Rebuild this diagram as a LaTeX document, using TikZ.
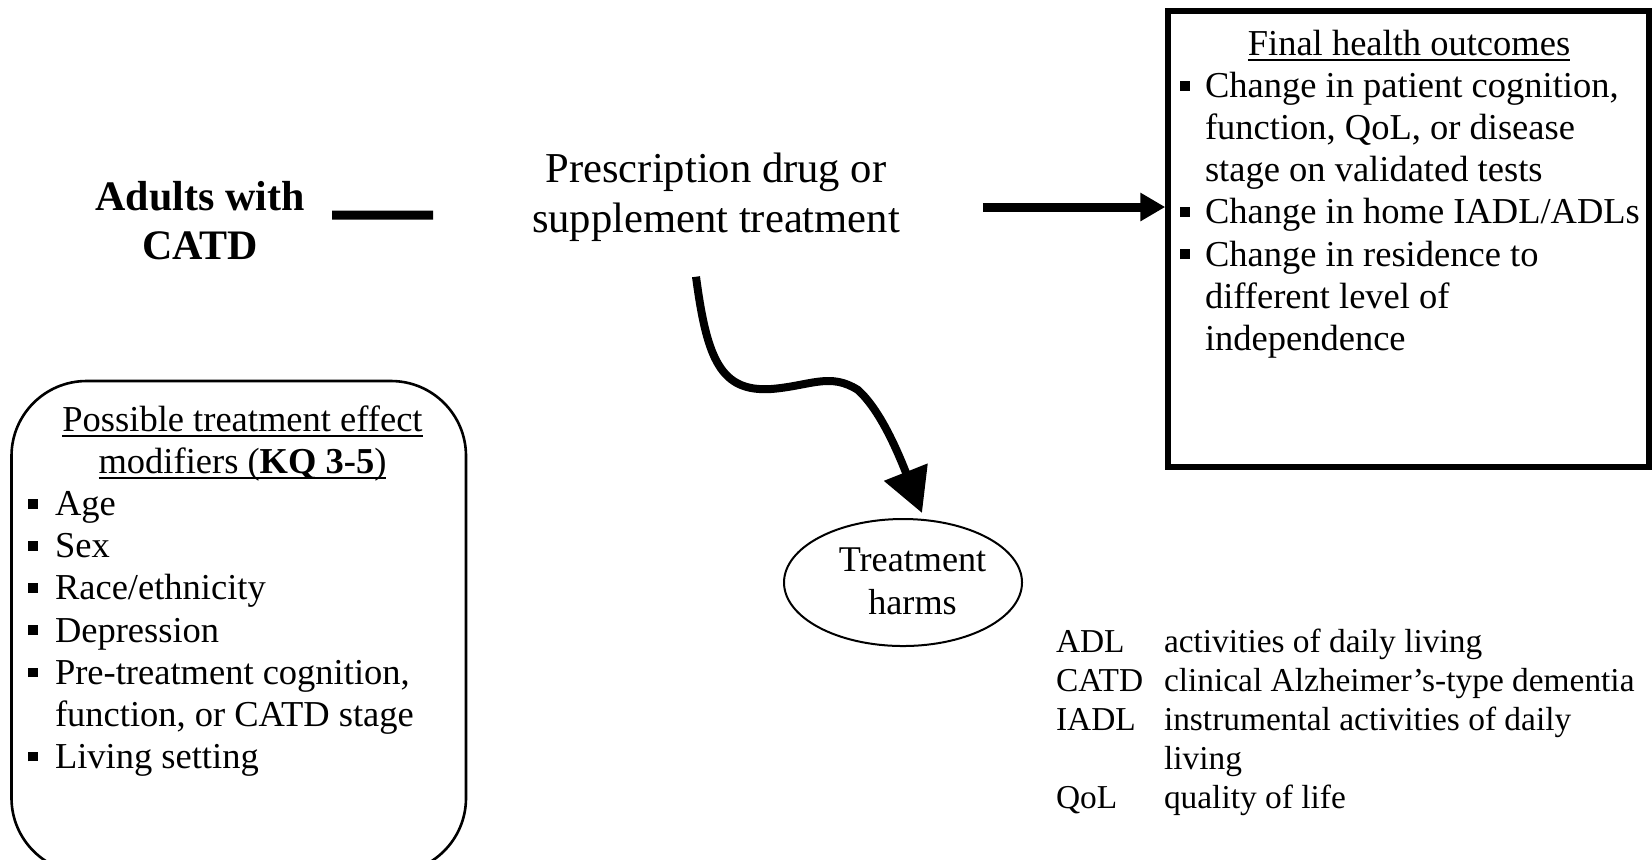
\documentclass[tikz,border=0pt]{standalone}
\usepackage{fontspec}
\setmainfont{Liberation Serif}
\usetikzlibrary{arrows.meta,shapes.geometric}

% small square list bullet, set in a box of the given width
\newcommand\sqbul[1]{\makebox[#1][l]{\rule[3.5pt]{4.8pt}{4.8pt}}}
% underline at a fixed distance below the baseline
\newsavebox\ulbox
\newcommand\ulined[1]{\sbox\ulbox{#1}\rlap{\rule[-3pt]{\wd\ulbox}{0.9pt}}\usebox\ulbox}

\begin{document}
\begin{tikzpicture}[x=0.5pt,y=-0.5pt,
  txt/.style={inner sep=0pt,outer sep=0pt},
  boxfont/.style={font=\fontsize{18.25}{21.05}\selectfont},
  modfont/.style={font=\fontsize{18.25}{21.05}\selectfont},
  bigfont/.style={font=\fontsize{21.3}{25}\selectfont},
  keyfont/.style={font=\fontsize{16.7}{19.5}\selectfont},
  bar/.style={line width=4.5pt},
  fatarrow/.style={line width=4.5pt,-{Triangle[length=12.5pt,width=13.5pt]}},
  wavyarrow/.style={line width=4pt,line join=round,-{Triangle[length=22pt,width=22.5pt]}},
  outcomebox/.style={draw,line width=2.75pt,inner sep=0pt},
  modbox/.style={draw,rounded corners=37.5pt,line width=1.3pt,inner sep=0pt},
  harmshape/.style={draw,ellipse,line width=1pt,inner sep=0pt}
]
\fill[white] (0,0) rectangle (1652,859);
\useasboundingbox (0,0) rectangle (1652,859);

% population and intervention
\node[txt,anchor=north,align=center,font=\bfseries\fontsize{21}{24.5}\selectfont]
  (adults) at (200,175.7) {\strut Adults with\\\strut CATD};
\node[txt,anchor=north,align=center,bigfont]
  (presc) at (716,147.6) {\strut Prescription drug or\\\strut supplement treatment};

% final outcomes box
\node[outcomebox,minimum width=240.5pt,minimum height=228pt] (final) at (1408.5,239) {};
\node[txt,anchor=base,boxfont] (finaltitle) at (1409,55) {\ulined{Final health outcomes}};
\node[txt,anchor=north west,align=left,boxfont] (finalitems) at (1180,68.2)
  {\strut\sqbul{12.5pt}Change in patient cognition,\\
   \hspace*{12.5pt}function, QoL, or disease\\
   \hspace*{12.5pt}stage on validated tests\\
   \sqbul{12.5pt}Change in home IADL/ADLs\\
   \sqbul{12.5pt}Change in residence to\\
   \hspace*{12.5pt}different level of\\
   \hspace*{12.5pt}independence\strut};

% effect modifiers box
\node[modbox,minimum width=227.25pt,minimum height=246pt] (mods) at (238.75,627) {};
\node[txt,anchor=north,align=center,modfont] (modtitle) at (242.5,401.7)
  {\strut\ulined{Possible treatment effect}\\
   \ulined{modifiers (\textbf{KQ 3-5})}\strut};
\node[txt,anchor=north west,align=left,modfont] (moditems) at (28,486.3)
  {\strut\sqbul{13.5pt}Age\\
   \sqbul{13.5pt}Sex\\
   \sqbul{13.5pt}Race/ethnicity\\
   \sqbul{13.5pt}Depression\\
   \sqbul{13.5pt}Pre-treatment cognition,\\
   \hspace*{13.5pt}function, or CATD stage\\
   \sqbul{13.5pt}Living setting\strut};

% harms
\node[harmshape,minimum width=119pt,minimum height=63.5pt] (harms) at (903,582.5) {};
\node[txt,anchor=north,align=center,font=\fontsize{18.1}{21.5}\selectfont]
  (harmstext) at (912.5,540.9) {\strut Treatment\\harms\strut};

% abbreviations
\node[txt,anchor=north west,align=left,keyfont] (abbrev) at (1056,624.7)
  {\strut\makebox[54pt][l]{ADL}activities of daily living\\
   \makebox[54pt][l]{CATD}clinical Alzheimer’s-type dementia\\
   \makebox[54pt][l]{IADL}instrumental activities of daily\\
   \makebox[54pt][l]{}living\\
   \makebox[54pt][l]{QoL}quality of life\strut};

% connectors
\draw[bar] ([shift={(27.6,-9.7)}]adults.east) -- ([shift={(-99,17.4)}]presc.west);
\draw[fatarrow] ([shift={(83,9.4)}]presc.east) -- ([shift={(0,-32)}]final.west);
\draw[wavyarrow] ([shift={(-20,29.1)}]presc.south)
  .. controls (707,360) and (721,392) .. (771,389)
  .. controls (810,386) and (830,372) .. (858,390)
  .. controls (880,410) and (897,450) .. ([shift={(19,-5)}]harms.north);
\end{tikzpicture}
\end{document}
